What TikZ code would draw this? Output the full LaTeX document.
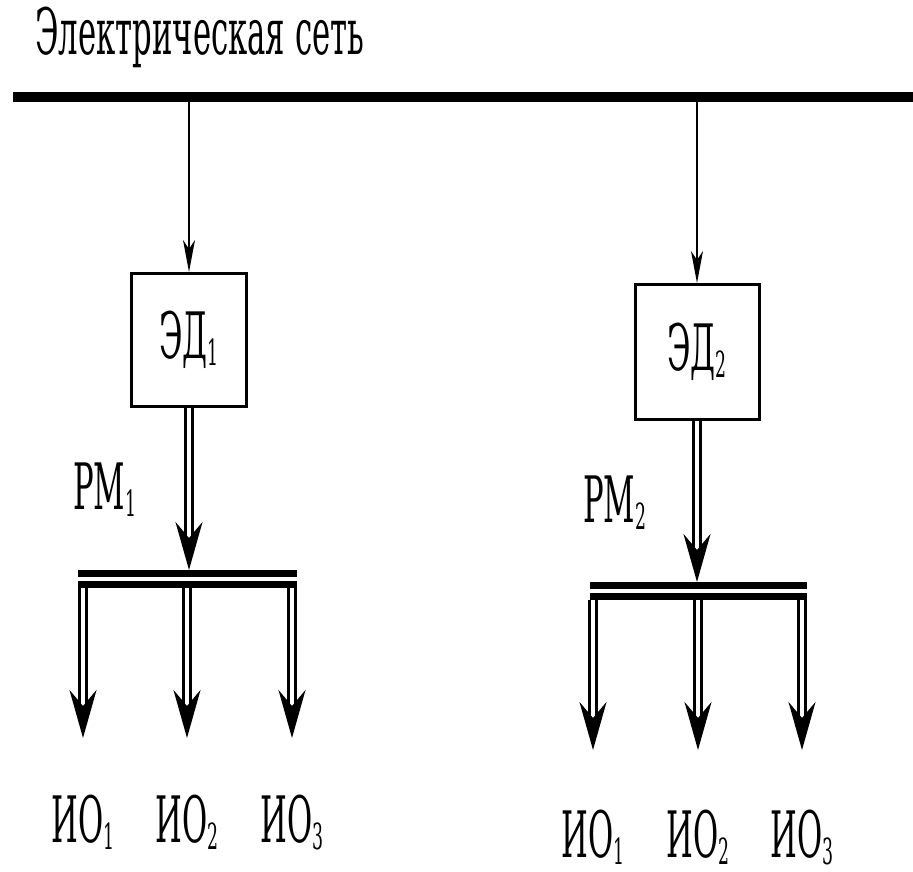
\documentclass[tikz,border=0pt]{standalone}
\usepackage{fontspec}
\setmainfont{DejaVu Serif}
\usepackage{graphicx}
\usetikzlibrary{arrows.meta, positioning}

% tall, narrow lettering
\newcommand{\narrow}[1]{\scalebox{0.48}[1]{#1}}
% index under the baseline
\newcommand{\idx}[1]{\raisebox{-7pt}{\fontsize{36}{36}\selectfont #1}}

\begin{document}
\begin{tikzpicture}[
  x=1pt, y=1pt,
  lbl/.style={font=\fontsize{64}{64}\selectfont, inner sep=0pt},
  unit/.style={rectangle, draw, line width=3pt, inner sep=0pt,
               font=\fontsize{64}{64}\selectfont},
  feed/.style={line width=1.5pt, -{Stealth[length=32pt, width=12pt, inset=9pt]}},
  shaft/.style={double, double distance=4pt, line width=3pt,
                -{Stealth[length=48pt, width=27pt, inset=16pt]}},
  hub/.style={double, double distance=4pt, line width=7pt},
  >=Stealth
]
\useasboundingbox (0,0) rectangle (913,871);

% supply line
\node[lbl, anchor=base west] (net) at (35,816) {\narrow{Электрическая сеть}};
\draw[line width=10pt] (13,774) coordinate (busL) -- (913,774) coordinate (busR);

% drives
\node[unit, minimum width=115pt, minimum height=133pt] (ed1) at (189,531) {\narrow{ЭД\idx{1}}};
\node[unit, minimum width=124pt, minimum height=135pt] (ed2) at (697,519) {\narrow{ЭД\idx{2}}};
\draw[feed] (ed1.north |- busL) -- (ed1.north);
\draw[feed] (ed2.north |- busL) -- (ed2.north);

% gearing 1
\coordinate (h1w) at (78,292);
\coordinate (h1e) at (297,292);
\draw[hub] (h1w) -- (h1e);
\draw[shaft] (ed1.south) -- (ed1.south |- 0,301);
\node[lbl, anchor=base west] (rm1) at (73,361) {\narrow{РМ\idx{1}}};
\draw[shaft] (83,283) -- (83,133) coordinate (t11);
\draw[shaft] (187,283) -- (187,133) coordinate (t12);
\draw[shaft] (292,283) -- (292,133) coordinate (t13);
\node[lbl, anchor=base] (io11) at (t11 |- 0,29) {\narrow{ИО\idx{1}}};
\node[lbl, anchor=base] (io12) at (t12 |- 0,29) {\narrow{ИО\idx{2}}};
\node[lbl, anchor=base] (io13) at (t13 |- 0,29) {\narrow{ИО\idx{3}}};

% gearing 2
\coordinate (h2w) at (590,280);
\coordinate (h2e) at (807,280);
\draw[hub] (h2w) -- (h2e);
\draw[shaft] (ed2.south) -- (ed2.south |- 0,289);
\node[lbl, anchor=base west] (rm2) at (583,348) {\narrow{РМ\idx{2}}};
\draw[shaft] (593,271) -- (593,121) coordinate (t21);
\draw[shaft] (698,271) -- (698,121) coordinate (t22);
\draw[shaft] (802,271) -- (802,121) coordinate (t23);
\node[lbl, anchor=base] (io21) at (t21 |- 0,14) {\narrow{ИО\idx{1}}};
\node[lbl, anchor=base] (io22) at (t22 |- 0,14) {\narrow{ИО\idx{2}}};
\node[lbl, anchor=base] (io23) at (t23 |- 0,14) {\narrow{ИО\idx{3}}};
\end{tikzpicture}
\end{document}
